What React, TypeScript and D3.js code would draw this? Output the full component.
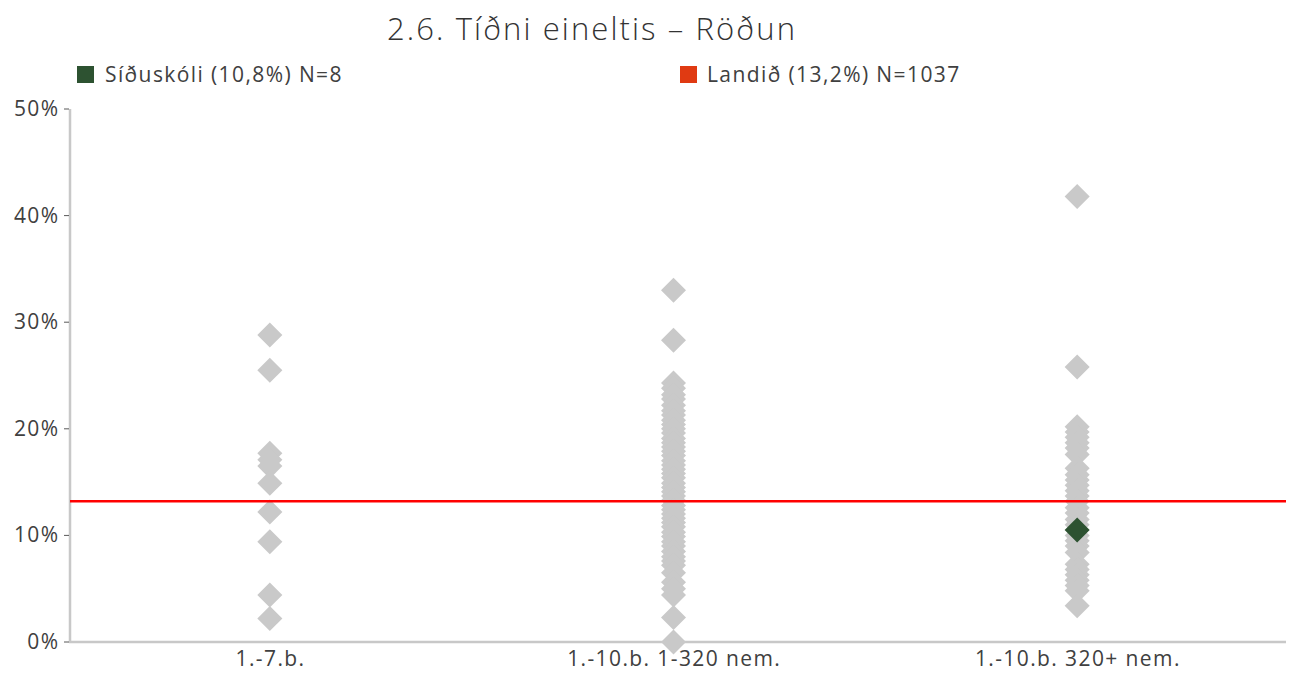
import React from "react";
import * as d3 from "d3";

const categories = ["1.-7.b.", "1.-10.b. 1-320 nem.", "1.-10.b. 320+ nem."];
const yTicks = [0, 10, 20, 30, 40, 50];
const title = "2.6. Tíðni eineltis – Röðun";
const legendSchool = "Síðuskóli (10,8%) N=8";
const legendNation = "Landið (13,2%) N=1037";
const nationValue = 13.2;

const schoolsSmall = [28.8, 25.5, 17.7, 17.1, 16.5, 14.9, 12.2, 9.4, 4.4, 2.2];
const schoolsMid = [
  33.0, 28.3, 24.3, 23.8, 23.2, 22.8, 22.2, 21.7, 21.3, 20.8, 20.4, 20.0, 19.6,
  19.1, 18.7, 18.3, 17.9, 17.5, 17.0, 16.6, 16.2, 15.8, 15.4, 14.9, 14.5, 14.1,
  13.7, 13.3, 12.8, 12.4, 12.0, 11.6, 11.2, 10.8, 10.3, 9.9, 9.4, 9.0, 8.5,
  8.0, 7.6, 7.2, 6.5, 5.6, 5.0, 4.4, 2.3, 0.0,
];
const schoolsLarge = [
  41.8, 25.8, 20.2, 19.7, 19.2, 18.7, 18.2, 17.6, 16.3, 15.7, 15.2, 14.7, 14.2,
  13.7, 13.2, 12.6, 12.1, 11.5, 11.0, 10.0, 9.5, 9.0, 8.4, 7.3, 6.8, 6.3, 5.8,
  5.3, 4.8, 3.4,
];
const highlightCategory = "1.-10.b. 320+ nem.";
const highlightValue = 10.5;

const seriesByCategory = [schoolsSmall, schoolsMid, schoolsLarge];

const W = 1295;
const H = 673;
const FONT = "'Open Sans', 'DejaVu Sans', sans-serif";
const LS = 1.4;

export default function App() {
  const x = d3.scaleBand<string>().domain(categories).range([68, 1279]).padding(0);
  const y = d3.scaleLinear().domain([0, 50]).range([642, 109]);
  const diamond = d3.symbol().type(d3.symbolDiamond2).size(400)() as string;
  const cx = (c: string) => (x(c) as number) + x.bandwidth() / 2;

  return (
    <svg
      width={W}
      height={H}
      style={{ position: "absolute", left: 0, top: 0, background: "#fff" }}
      fontFamily={FONT}
    >
      <text x={592} y={40} textAnchor="middle" fontSize={31} fill="#333" fontWeight={300} letterSpacing={2.1}>
        {title}
      </text>
      {/* legend */}
      <rect x={77} y={66} width={17} height={17} fill="#2d5231" />
      <text x={105} y={82} fontSize={21} fill="#404040" letterSpacing={LS}>{legendSchool}</text>
      <rect x={680} y={66} width={17} height={17} fill="#e03a12" />
      <text x={707} y={82} fontSize={21} fill="#404040" letterSpacing={LS}>{legendNation}</text>

      {/* y axis */}
      <line x1={70} x2={70} y1={y(50)} y2={y(0) + 1} stroke="#c8c8c8" strokeWidth={2.5} />
      {yTicks.map((t) => (
        <g key={t}>
          <line x1={64} x2={69} y1={y(t)} y2={y(t)} stroke="#595959" strokeWidth={1} />
          <text x={59.5} y={y(t) + 7} textAnchor="end" fontSize={21} fill="#404040" letterSpacing={LS}>
            {t}%
          </text>
        </g>
      ))}
      {/* x axis */}
      <line x1={69} x2={1286} y1={y(0)} y2={y(0)} stroke="#c8c8c8" strokeWidth={2.5} />
      {categories.map((c) => (
        <text key={c} x={cx(c) + LS / 2} y={666} textAnchor="middle" fontSize={21} fill="#404040" letterSpacing={LS}>
          {c}
        </text>
      ))}

      {/* points */}
      {categories.map((c, i) =>
        seriesByCategory[i].map((v, j) => (
          <path
            key={c + j}
            d={diamond}
            transform={`translate(${cx(c)},${y(v)})`}
            fill="#c9c9c9"
          />
        ))
      )}
      {/* nation line */}
      <line x1={70} x2={1286} y1={y(nationValue)} y2={y(nationValue)} stroke="#ff0000" strokeWidth={2.5} />
      {/* highlighted school */}
      <path
        d={diamond}
        transform={`translate(${cx(highlightCategory)},${y(highlightValue)})`}
        fill="#2d5231"
      />
    </svg>
  );
}
